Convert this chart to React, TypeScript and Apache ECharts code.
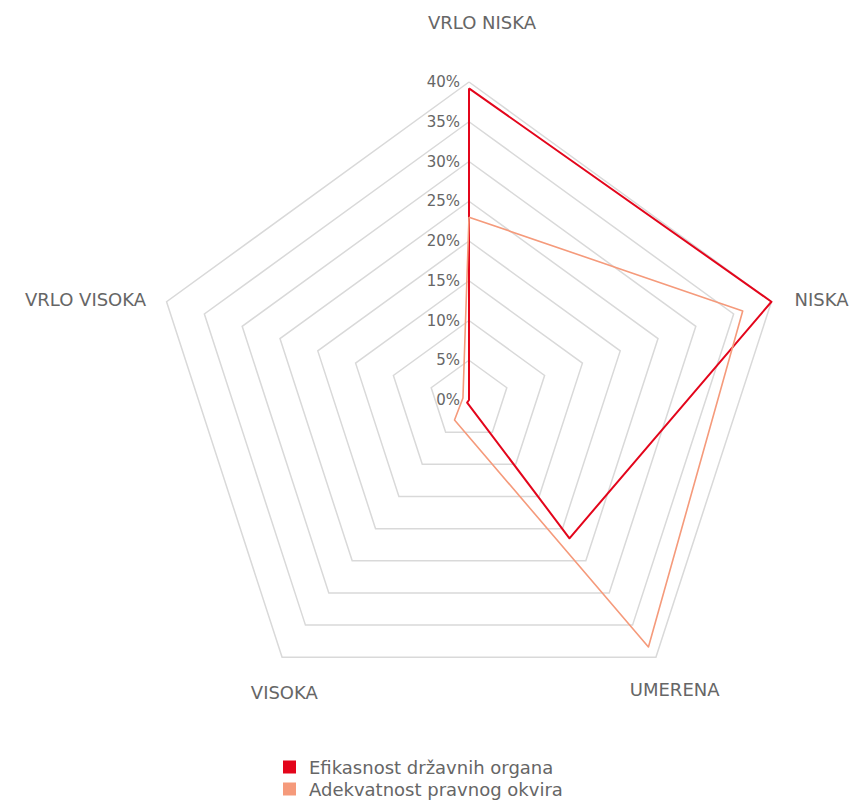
import React, { useEffect, useRef } from "react";
import * as echarts from "echarts";

const indicators = ["VRLO NISKA", "NISKA", "UMERENA", "VISOKA", "VRLO VISOKA"];
const seriesNames = ["Efikasnost državnih organa", "Adekvatnost pravnog okvira"];
const efikasnost = [39.2, 40, 21.5, 0.4, 0];
const adekvatnost = [23, 36.2, 38.4, 3.1, 0.8];
const maxValue = 40;
const tickStep = 5;

// ECharts draws radar axes counter-clockwise; the reference goes clockwise.
const drawOrder = [0, 4, 3, 2, 1];

const RED = "#e3051b";
const ORANGE = "#f59a7b";
const GRAY = "#666";
const FONT = "'DejaVu Sans', sans-serif";

// per-label shifts (padding: top, right, bottom, left) of the centered axis names
const namePads: Record<string, number[]> = {
  "VRLO NISKA": [0, 0, 80, 26],
  NISKA: [8, 0, 0, 62],
  UMERENA: [32, 0, 0, 14],
  VISOKA: [38, 0, 0, 28],
  "VRLO VISOKA": [8, 124, 0, 0],
};

export default function App() {
  const ref = useRef<HTMLDivElement>(null);
  useEffect(() => {
    if (!ref.current) return;
    const chart = echarts.init(ref.current, undefined, { renderer: "svg" });
    const center = [469, 400];
    const radius = 318;
    const rich: Record<string, any> = {};
    indicators.forEach((n, i) => {
      rich["n" + i] = {
        padding: namePads[n],
        fontSize: 18,
        color: GRAY,
        fontFamily: FONT,
      };
    });
    chart.setOption({
      animation: false,
      textStyle: { fontFamily: FONT },
      legend: {
        orient: "vertical",
        left: 283,
        top: 758,
        padding: 0,
        itemWidth: 13,
        itemHeight: 13,
        itemGap: 4,
        icon: "rect",
        textStyle: {
          color: GRAY,
          fontSize: 18,
          lineHeight: 18,
          fontFamily: FONT,
          padding: [0, 0, 0, 8],
        },
        data: seriesNames,
      },
      radar: {
        center,
        radius,
        startAngle: 90,
        splitNumber: maxValue / tickStep,
        shape: "polygon",
        indicator: drawOrder.map((i) => ({ name: indicators[i], min: 0, max: maxValue })),
        axisName: {
          align: "center",
          verticalAlign: "middle",
          color: GRAY,
          fontSize: 18,
          fontFamily: FONT,
          formatter: (name: string) => `{n${indicators.indexOf(name)}|${name}}`,
          rich,
        },
        nameGap: 20,
        axisLine: { show: false },
        axisTick: { show: false },
        splitArea: { show: false },
        splitLine: { lineStyle: { color: "#d9d9d9", width: 1.5 } },
        axisLabel: { show: false },
      },
      polar: { center, radius },
      angleAxis: {
        startAngle: 90,
        show: false,
        min: 0,
        max: 360,
      },
      radiusAxis: {
        min: 0,
        max: maxValue,
        interval: tickStep,
        axisLine: { show: false },
        axisTick: { show: false },
        splitLine: { show: false },
        axisLabel: {
          formatter: "{value}%",
          color: GRAY,
          fontSize: 15,
          fontFamily: FONT,
          margin: 9,
        },
      },
      series: [
        {
          type: "radar",
          symbol: "none",
          data: [
            {
              name: seriesNames[0],
              value: drawOrder.map((i) => efikasnost[i]),
              lineStyle: { color: RED, width: 2 },
              itemStyle: { color: RED },
            },
            {
              name: seriesNames[1],
              value: drawOrder.map((i) => adekvatnost[i]),
              lineStyle: { color: ORANGE, width: 1.6 },
              itemStyle: { color: ORANGE },
            },
          ],
        },
      ],
    });
    return () => chart.dispose();
  }, []);
  return (
    <div
      ref={ref}
      style={{ position: "absolute", left: 0, top: 0, width: 855, height: 800 }}
    />
  );
}
